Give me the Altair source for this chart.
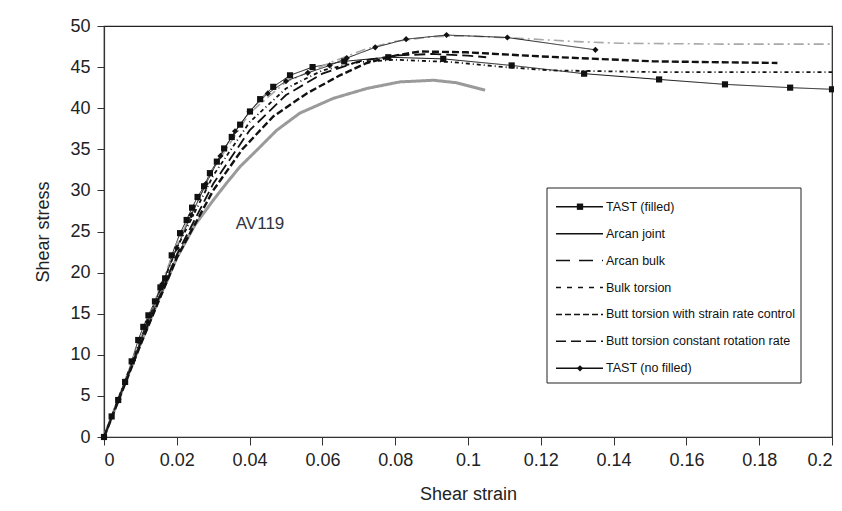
import altair as alt
import pandas as pd

# ---- data ----
names = [
    "TAST (filled)",
    "Arcan joint",
    "Arcan bulk",
    "Bulk torsion",
    "Butt torsion with strain rate control",
    "Butt torsion constant rotation rate",
    "TAST (no filled)",
]

tast_filled_x = [0, 0.0021, 0.0039, 0.0058, 0.0076, 0.0094, 0.0108, 0.0122, 0.014, 0.0155, 0.0168,
                 0.0186, 0.0209, 0.0227, 0.0242, 0.0257, 0.0275, 0.0291, 0.031, 0.033, 0.0351,
                 0.0374, 0.0401, 0.0429, 0.0465, 0.0511, 0.0573, 0.066, 0.0781, 0.0932, 0.112,
                 0.1319, 0.1525, 0.1706, 0.1885, 0.2]
tast_filled_y = [0, 2.5, 4.5, 6.7, 9.2, 11.8, 13.4, 14.8, 16.5, 18.2, 19.3,
                 22.1, 24.8, 26.4, 27.9, 29.2, 30.5, 32.1, 33.5, 35.1, 36.5,
                 38.0, 39.6, 41.1, 42.6, 44.0, 45.0, 45.7, 46.2, 46.0, 45.2,
                 44.2, 43.5, 42.9, 42.5, 42.3]

arcan_joint_x = [0, 0.005, 0.01, 0.015, 0.02, 0.025, 0.03, 0.0337, 0.0374, 0.042, 0.0474, 0.0538,
                 0.063, 0.0722, 0.0813, 0.0905, 0.0968, 0.1047]
arcan_joint_y = [0, 5.7, 11.3, 16.7, 21.8, 25.8, 28.8, 30.9, 32.9, 34.9, 37.3, 39.4,
                 41.2, 42.4, 43.2, 43.4, 43.1, 42.2]

arcan_bulk_x = [0, 0.01, 0.02, 0.03, 0.04, 0.05, 0.063, 0.072, 0.0795, 0.09, 0.1, 0.114, 0.13,
                0.1418, 0.17, 0.2]
arcan_bulk_y = [0, 12.0, 23.5, 32.6, 39.4, 43.2, 45.7, 47.2, 48.1, 48.7, 48.8, 48.5, 48.1,
                47.9, 47.8, 47.8]

bulk_torsion_x = [0, 0.01, 0.02, 0.03, 0.04, 0.05, 0.06, 0.07, 0.08, 0.096, 0.11, 0.123, 0.151, 0.2]
bulk_torsion_y = [0, 11.8, 23.0, 31.8, 38.3, 42.4, 44.6, 45.6, 45.9, 45.6, 45.0, 44.6, 44.4, 44.4]

butt_src_x = [0, 0.01, 0.02, 0.03, 0.038, 0.0465, 0.0557, 0.0648, 0.0722, 0.08, 0.0868, 0.0996,
              0.12, 0.151, 0.185]
butt_src_y = [0, 11.2, 21.8, 30.0, 35.0, 39.0, 41.8, 44.0, 45.5, 46.4, 46.9, 46.8,
              46.3, 45.7, 45.5]

butt_crr_x = [0, 0.01, 0.02, 0.03, 0.04, 0.05, 0.06, 0.07, 0.08, 0.09, 0.1, 0.105]
butt_crr_y = [0, 11.4, 22.2, 30.8, 37.3, 41.6, 44.2, 45.7, 46.4, 46.6, 46.4, 46.2]

tast_nf_x = [0, 0.004, 0.008, 0.012, 0.016, 0.02, 0.024, 0.028, 0.032, 0.036, 0.04, 0.045, 0.05,
             0.056, 0.062, 0.0667, 0.0745, 0.083, 0.0941, 0.1108, 0.135]
tast_nf_y = [0, 4.6, 9.3, 14.0, 18.6, 23.0, 27.0, 30.8, 34.2, 37.2, 39.6, 41.8, 43.3,
             44.3, 45.2, 46.1, 47.4, 48.4, 48.9, 48.6, 47.1]

annotation_text = ["AV119"]
annotation_x = [0.0362]
annotation_y = [25.9]

x_ticks = [0, 0.02, 0.04, 0.06, 0.08, 0.1, 0.12, 0.14, 0.16, 0.18, 0.2]
y_ticks = [0, 5, 10, 15, 20, 25, 30, 35, 40, 45, 50]

series_xy = {
    names[0]: (tast_filled_x, tast_filled_y),
    names[1]: (arcan_joint_x, arcan_joint_y),
    names[2]: (arcan_bulk_x, arcan_bulk_y),
    names[3]: (bulk_torsion_x, bulk_torsion_y),
    names[4]: (butt_src_x, butt_src_y),
    names[5]: (butt_crr_x, butt_crr_y),
    names[6]: (tast_nf_x, tast_nf_y),
}

# ---- styles ----
line_style = {
    names[0]: dict(color="#111111", width=1.0, dash=[1, 0]),
    names[1]: dict(color="#9a9a9a", width=3.0, dash=[1, 0]),
    names[2]: dict(color="#a8a8a8", width=1.6, dash=[10, 4, 2, 4]),
    names[3]: dict(color="#111111", width=1.8, dash=[4, 3, 1, 3]),
    names[4]: dict(color="#111111", width=2.4, dash=[7, 3]),
    names[5]: dict(color="#111111", width=1.8, dash=[11, 5]),
    names[6]: dict(color="#222222", width=1.0, dash=[1, 0]),
}
legend_dash = [[1, 0], [1, 0], [14, 9], [5, 6], [6, 3], [10, 5], [1, 0]]
marker_names = [names[0], names[6]]
marker_shapes = ["square", "diamond"]

FONT = "Liberation Sans"

rows = []
for n in names:
    xs, ys = series_xy[n]
    for i, (a, b) in enumerate(zip(xs, ys)):
        rows.append({"series": n, "x": a, "y": b, "i": i})
df = pd.DataFrame(rows)

x_enc = alt.X("x:Q", scale=alt.Scale(domain=[0, 0.2], nice=False),
              axis=alt.Axis(values=x_ticks, format="~g", title="Shear strain"))
y_enc = alt.Y("y:Q", scale=alt.Scale(domain=[0, 50], nice=False),
              axis=alt.Axis(values=y_ticks, title="Shear stress"))

base = alt.Chart(df)
line_layers = []
for n in names:
    s = line_style[n]
    line_layers.append(
        base.transform_filter(alt.datum.series == n)
        .mark_line(color=s["color"], strokeWidth=s["width"], strokeDash=s["dash"])
        .encode(x=x_enc, y=y_enc, order="i:Q")
    )

points = (
    base.transform_filter(alt.FieldOneOfPredicate(field="series", oneOf=marker_names))
    .mark_point(filled=True, color="#111111", size=38, opacity=1)
    .encode(
        x=alt.X("x:Q"), y=alt.Y("y:Q"),
        shape=alt.Shape("series:N", scale=alt.Scale(domain=marker_names, range=marker_shapes), legend=None),
    )
)

ann_df = pd.DataFrame({"t": annotation_text, "x": annotation_x, "y": annotation_y})
ann = alt.Chart(ann_df).mark_text(align="left", baseline="middle", font=FONT, fontSize=17,
                                   color="#2e3440").encode(x="x:Q", y="y:Q", text="t:N")

main = alt.layer(*line_layers, points, ann)

# ---- legend (drawn as its own layer, rows placed by a point scale) ----
leg_df = pd.DataFrame({"name": names})
row_scale = alt.Scale(type="point", domain=names, range=[180.7, 342.3], padding=0)
leg_y = alt.Y("name:N", scale=row_scale, axis=None)

box = alt.Chart(alt.Data(values=[{"k": 1}])).mark_rect(
    fill="white", stroke="#222222", strokeWidth=1
).encode(x=alt.value(443), x2=alt.value(697), y=alt.value(162), y2=alt.value(357))

leg_rules = alt.Chart(leg_df).mark_rule(color="#111111", strokeWidth=1.5).encode(
    x=alt.value(452), x2=alt.value(499), y=leg_y,
    strokeDash=alt.StrokeDash("name:N", scale=alt.Scale(domain=names, range=legend_dash), legend=None),
)
leg_marks = alt.Chart(leg_df).transform_filter(
    alt.FieldOneOfPredicate(field="name", oneOf=marker_names)
).mark_point(filled=True, color="#111111", size=40, opacity=1).encode(
    x=alt.value(476), y=leg_y,
    shape=alt.Shape("name:N", scale=alt.Scale(domain=marker_names, range=marker_shapes), legend=None),
)
leg_text = alt.Chart(leg_df).mark_text(align="left", baseline="middle", font=FONT, fontSize=12.5,
                                       color="#111111").encode(
    x=alt.value(502), y=leg_y, text="name:N")

legend = alt.layer(box, leg_rules, leg_marks, leg_text)

chart = (
    alt.layer(main, legend)
    .resolve_scale(y="independent")
    .properties(width=728, height=411,
                autosize=alt.AutoSizeParams(type="none"),
                padding={"left": 96, "top": 18, "right": 2, "bottom": 66})
    .configure_view(stroke="#222222", strokeWidth=1.2)
    .configure_axis(
        grid=False, domainColor="#333333", tickColor="#333333", domainWidth=1.2,
        labelFont=FONT, titleFont=FONT, labelFontSize=18, titleFontSize=18,
        labelColor="#222222", titleColor="#222222", titleFontWeight="normal",
    )
    .configure_axisX(tickSize=8, labelPadding=6, titlePadding=16)
    .configure_axisY(tickSize=7, labelPadding=7, titlePadding=17)
)

chart.save("out.html", embed_options={"renderer": "svg", "actions": False})
